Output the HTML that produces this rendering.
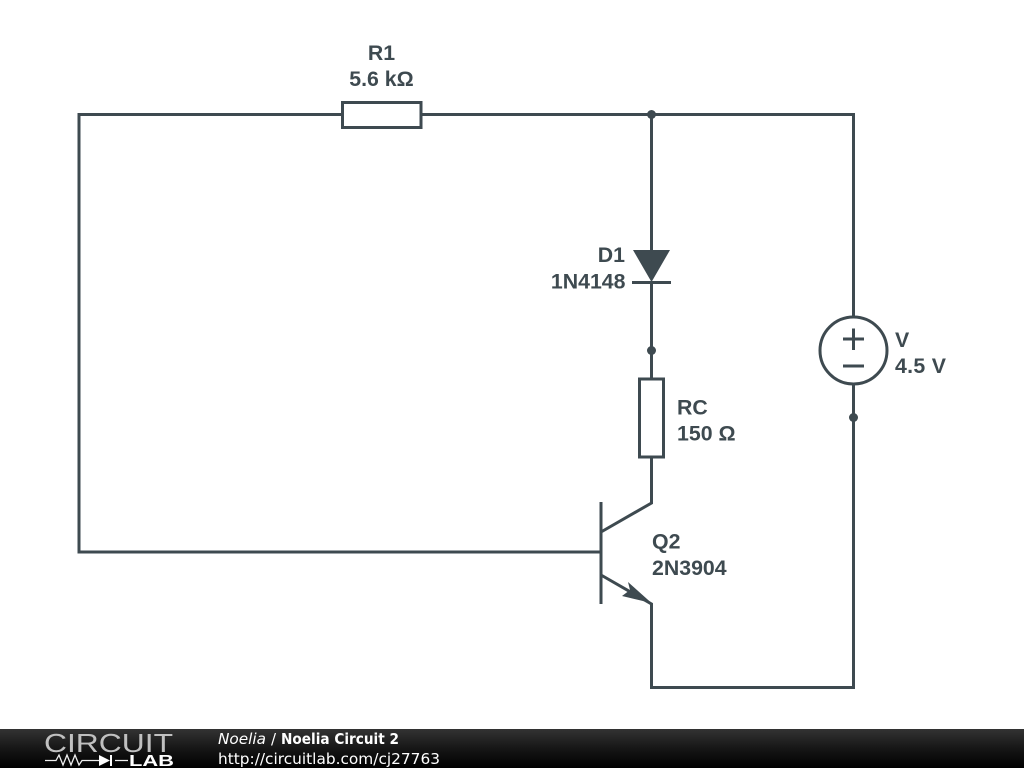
<!DOCTYPE html>
<html><head><meta charset="utf-8">
<style>html,body{margin:0;padding:0;background:#fff;width:1024px;height:768px;overflow:hidden}svg{display:block}</style>
</head><body>
<svg width="1024" height="768" viewBox="0 0 1024 768" xmlns="http://www.w3.org/2000/svg">
<defs><linearGradient id="g" x1="0" y1="0" x2="0" y2="1"><stop offset="0" stop-color="#333"/><stop offset="0.5" stop-color="#161616"/><stop offset="1" stop-color="#000"/></linearGradient></defs>
<rect width="1024" height="768" fill="#fff"/>
<g fill="none" stroke="#3e4a50" stroke-width="3">
<path d="M342 114.500H79V552H601"/>
<path d="M421 114.500H853.500V317"/>
<path d="M651.500 114V250"/>
<path d="M651.500 282V379"/>
<path d="M651.500 457V503L601 532"/>
<path d="M601 502V604"/>
<path d="M601 575L651.500 604V687.500H853.500V384"/>
<rect x="342.500" y="102.500" width="78.500" height="25"/>
<rect x="639.500" y="379" width="24" height="78"/>
<circle cx="853.500" cy="350.500" r="33.500"/>
<path d="M632 282.500H671"/>
<path d="M843 339H864M853.500 328.500V350M843 366H864"/>
</g>
<path d="M633 250H670L651.500 282Z" fill="#3e4a50"/>
<path d="M651.500 603L622 596L630 590L628 582Z" fill="#3e4a50"/>
<g fill="#3e4a50">
<circle cx="651.500" cy="114.500" r="4.500"/>
<circle cx="651.500" cy="350.500" r="4.500"/>
<circle cx="853.500" cy="417.500" r="4.500"/>
</g>
<g font-family="'Liberation Sans',sans-serif" font-size="21.300" font-weight="700" fill="#3e4a50">
<text x="381.500" y="60" text-anchor="middle">R1</text>
<text x="381.500" y="86" text-anchor="middle">5.6 kΩ</text>
<text x="625" y="262" text-anchor="end">D1</text>
<text x="625.500" y="288.500" text-anchor="end">1N4148</text>
<text x="677" y="414.500">RC</text>
<text x="677" y="440.500">150 Ω</text>
<text x="652" y="548.500">Q2</text>
<text x="652" y="575">2N3904</text>
<text x="895" y="347">V</text>
<text x="895" y="373" textLength="51">4.5 V</text>
</g>
<rect x="0" y="729" width="1024" height="39" fill="url(#g)"/>
<text x="44" y="752" font-family="'Liberation Sans',sans-serif" font-size="26" fill="#c0c0c0" textLength="129" lengthAdjust="spacingAndGlyphs">CIRCUIT</text>
<path d="M45 760.500H56L59 755L63 765L67 755L71 765L75 755L79 765L82 760.500H99M115 760.500H128" fill="none" stroke="#eee" stroke-width="1.300"/>
<path d="M99 755V766L110 760.500Z" fill="#fff"/>
<path d="M111 755V766" stroke="#fff" stroke-width="2"/>
<text x="129" y="766" font-family="'Liberation Sans',sans-serif" font-size="16" font-weight="700" fill="#fff" textLength="45" lengthAdjust="spacingAndGlyphs">LAB</text>
<g font-family="'DejaVu Sans',sans-serif" fill="#fff">
<text x="218" y="744" font-size="15" font-style="italic" textLength="48" lengthAdjust="spacingAndGlyphs">Noelia</text>
<text x="271" y="744" font-size="15">/</text>
<text x="281" y="744" font-size="15" font-weight="700" textLength="118" lengthAdjust="spacingAndGlyphs">Noelia Circuit 2</text>
<text x="218" y="764" font-size="15" textLength="222" lengthAdjust="spacingAndGlyphs">http://circuitlab.com/cj27763</text>
</g>
</svg>
</body></html>
